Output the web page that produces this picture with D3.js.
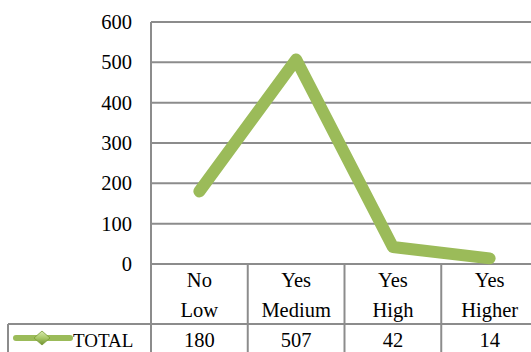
<!DOCTYPE html>
<html>
<head>
<meta charset="utf-8">
<script src="https://cdn.jsdelivr.net/npm/d3@7/dist/d3.min.js"></script>
<style>
  html, body { margin: 0; padding: 0; background: #fff; }
  svg { display: block; }
</style>
</head>
<body>
<svg id="chart" width="531" height="352"></svg>
<script>
// Survey totals by answer group
const categoryTop = ["No", "Yes", "Yes", "Yes"];
const categoryBottom = ["Low", "Medium", "High", "Higher"];
const totals = [180, 507, 42, 14];
const seriesName = "TOTAL";
const yTicks = [0, 100, 200, 300, 400, 500, 600];

(function () {
const H = 352;
const plotLeft = 151, plotRight = 538, plotTop = 22, plotBottom = 264;
const tableLeft = 8, rowSplit = 324;
const gridColor = "#8c8c8c";
const lineColor = "#9bbb59";
const serif = '"Liberation Serif", "Times New Roman", serif';
const fs = "20.5px";

const svg = d3.select("#chart");
const keys = d3.range(totals.length);

const x = d3.scaleBand().domain(keys).range([plotLeft, plotRight]);
const y = d3.scaleLinear().domain([0, 600]).range([plotBottom, plotTop]);

// horizontal gridlines
svg.append("g").selectAll("line").data(yTicks).join("line")
  .attr("x1", plotLeft).attr("x2", plotRight)
  .attr("y1", d => y(d)).attr("y2", d => y(d))
  .attr("stroke", gridColor).attr("stroke-width", 2);

// value axis labels
const yAxis = d3.axisLeft(y).tickValues(yTicks).tickSize(0).tickPadding(19);
const yg = svg.append("g").attr("transform", `translate(${plotLeft},0)`).call(yAxis);
yg.select(".domain").remove();
yg.selectAll("text")
  .style("font-family", serif).style("font-size", fs).attr("fill", "#000");

// vertical axis line running down through the data table
svg.append("line").attr("x1", plotLeft).attr("x2", plotLeft).attr("y1", plotTop).attr("y2", H)
  .attr("stroke", gridColor).attr("stroke-width", 2);

// data table column separators
svg.append("g").selectAll("line").data(keys.slice(1).concat([totals.length])).join("line")
  .attr("x1", d => d < totals.length ? x(d) : plotRight)
  .attr("x2", d => d < totals.length ? x(d) : plotRight)
  .attr("y1", plotBottom).attr("y2", H)
  .attr("stroke", gridColor).attr("stroke-width", 2);

// row split and legend cell border
svg.append("line").attr("x1", tableLeft).attr("x2", plotRight).attr("y1", rowSplit).attr("y2", rowSplit)
  .attr("stroke", gridColor).attr("stroke-width", 2);
svg.append("line").attr("x1", tableLeft).attr("x2", tableLeft).attr("y1", rowSplit).attr("y2", H)
  .attr("stroke", gridColor).attr("stroke-width", 2);

// category labels (two lines)
const cx = i => x(i) + x.bandwidth() / 2;
svg.append("g").selectAll("text").data(keys).join("text")
  .attr("x", cx).attr("y", 287).attr("text-anchor", "middle")
  .style("font-family", serif).style("font-size", fs).text(i => categoryTop[i]);
svg.append("g").selectAll("text").data(keys).join("text")
  .attr("x", cx).attr("y", 317).attr("text-anchor", "middle")
  .style("font-family", serif).style("font-size", fs).text(i => categoryBottom[i]);

// values row
svg.append("g").selectAll("text").data(keys).join("text")
  .attr("x", cx).attr("y", 346.5).attr("text-anchor", "middle")
  .style("font-family", serif).style("font-size", fs).text(i => totals[i]);

// legend key: line with diamond marker
const defs = svg.append("defs");
const grad = defs.append("linearGradient").attr("id", "dgrad")
  .attr("x1", 0).attr("y1", 0).attr("x2", 0).attr("y2", 1);
grad.append("stop").attr("offset", "0%").attr("stop-color", "#d8eab0");
grad.append("stop").attr("offset", "50%").attr("stop-color", "#a9c868");
grad.append("stop").attr("offset", "100%").attr("stop-color", "#6f9030");
svg.append("line").attr("x1", 16).attr("x2", 70).attr("y1", 338).attr("y2", 338)
  .attr("stroke", lineColor).attr("stroke-width", 6).attr("stroke-linecap", "round");
const dp = d3.path();
dp.moveTo(42, 331); dp.lineTo(50, 338); dp.lineTo(42, 345); dp.lineTo(34, 338); dp.closePath();
svg.append("path").attr("d", dp.toString()).attr("fill", "url(#dgrad)")
  .attr("stroke", "#7a9c36").attr("stroke-width", 0.8);
svg.append("text").attr("x", 73).attr("y", 346.5)
  .style("font-family", serif).style("font-size", "19px").text(seriesName);

// the series line
const line = d3.line().x((d, i) => cx(i)).y(d => y(d));
svg.append("path").datum(totals)
  .attr("d", line)
  .attr("fill", "none").attr("stroke", lineColor).attr("stroke-width", 12)
  .attr("stroke-linecap", "round").attr("stroke-linejoin", "round");
})();
</script>
</body>
</html>
